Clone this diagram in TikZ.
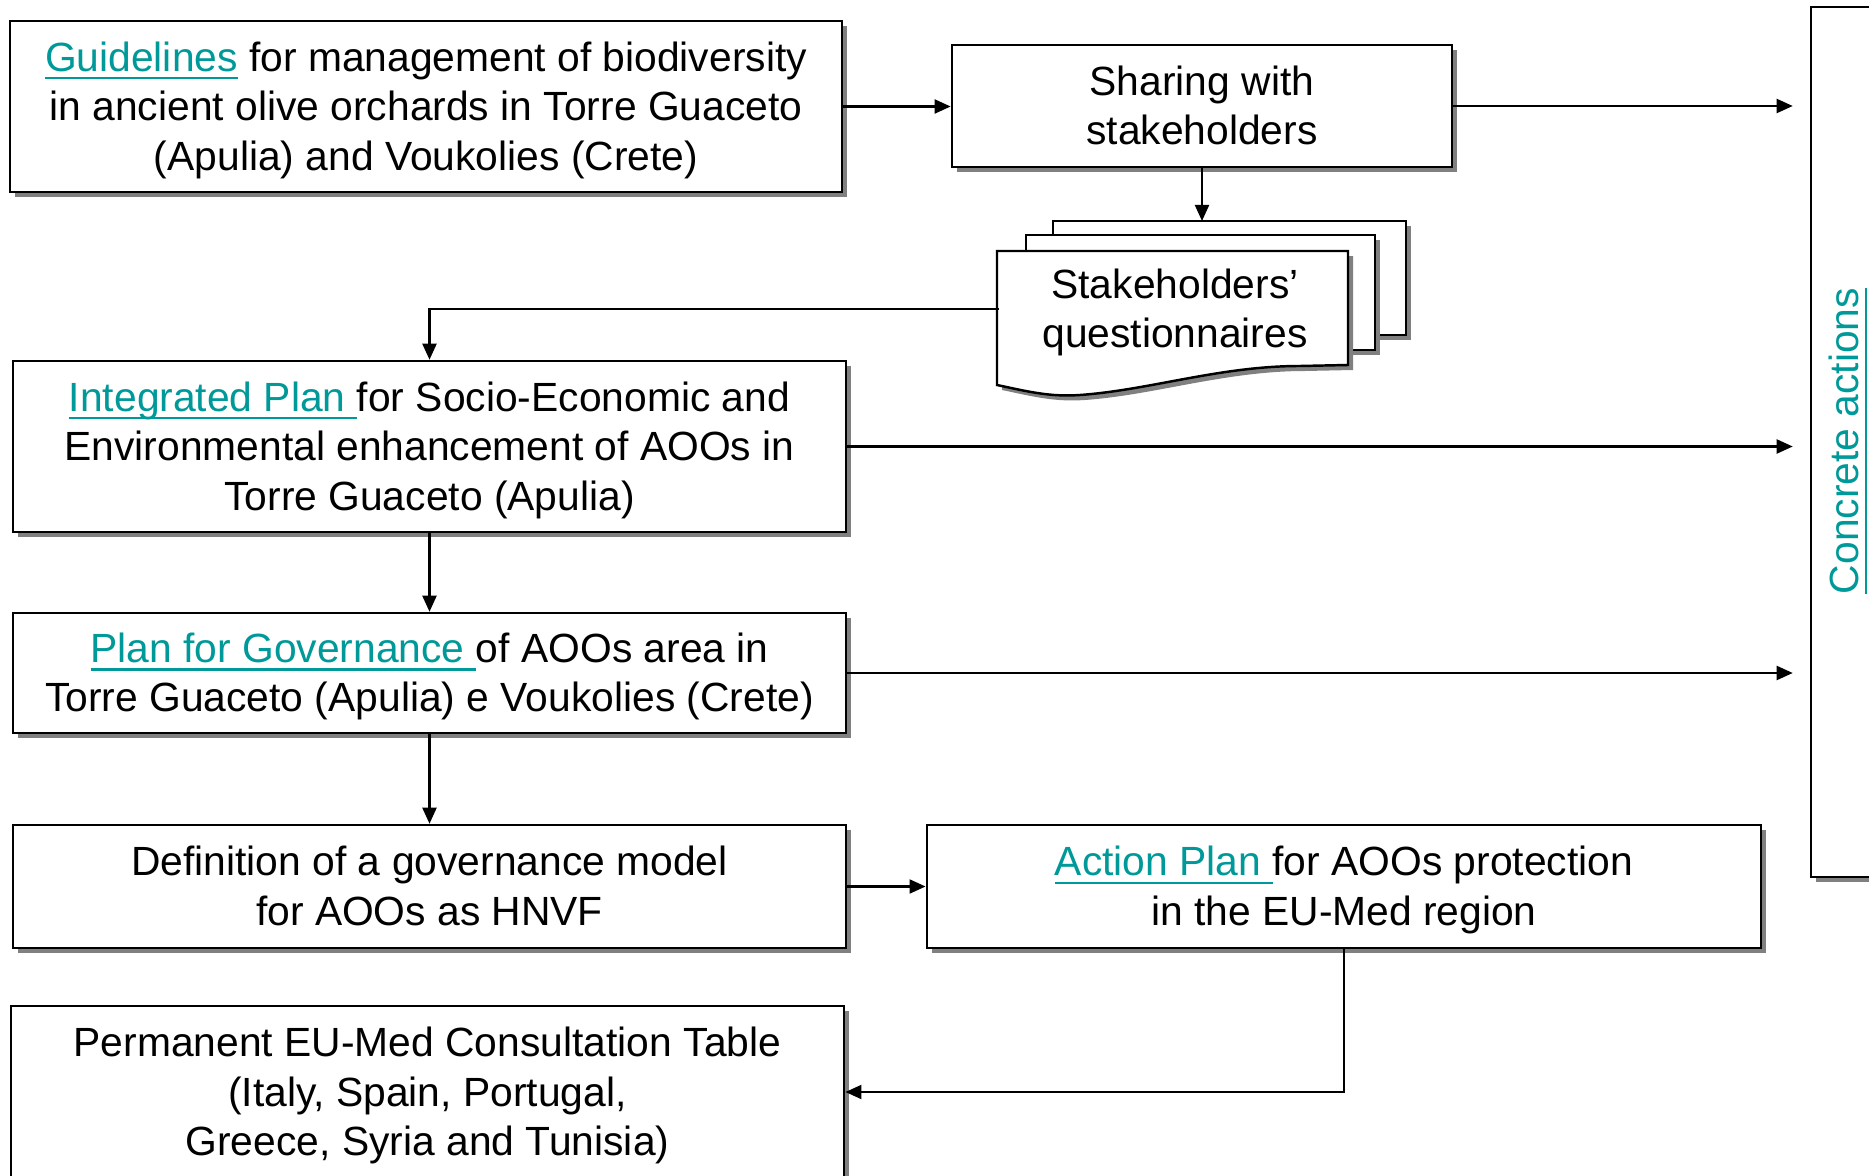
\documentclass[tikz,border=0pt]{standalone}
\usepackage{fontspec}
\setmainfont{Liberation Sans}
\usetikzlibrary{arrows.meta,shadows}
\definecolor{lnkcol}{RGB}{0,153,153}
\newcommand{\lnk}[1]{\textcolor{lnkcol}{\setbox0\hbox{#1}\rlap{\rule[-0.2em]{\wd0}{0.6pt}}\box0}}
\newcommand{\tp}{\rule{0pt}{0.905em}}
\newcommand{\bt}{\rule[-0.212em]{0pt}{0.212em}}

\begin{document}
\begin{tikzpicture}[x=0.01cm,y=-0.01cm,font=\fontsize{11.6}{14.1}\selectfont]
\tikzstyle{shd}=[drop shadow={shadow xshift=0.05cm,shadow yshift=-0.05cm,fill=gray,opacity=1}]
\tikzstyle{txt}=[align=center,inner sep=0pt]
\tikzstyle{bx}=[rectangle,draw=black,line width=0.7pt,fill=white,txt,shd]
\tikzstyle{pg}=[draw=black,line width=0.7pt,fill=white,shd]
\tikzstyle{arr}=[line width=0.6pt,-{Triangle[length=0.16cm,width=0.14cm]}]
\useasboundingbox (0,0) rectangle (1869,1176);
% left column
\node (guide) [bx,minimum width=8.32cm,minimum height=1.71cm] at (426,106.5)
 {\tp\lnk{Guidelines} for management of biodiversity\\in ancient olive orchards in Torre Guaceto\\(Apulia) and Voukolies (Crete)\bt};
\node (integ) [bx,minimum width=8.33cm,minimum height=1.71cm] at (429.5,446.5)
 {\tp\lnk{Integrated Plan\ }for Socio-Economic and\\Environmental enhancement of AOOs in\\Torre Guaceto (Apulia)\bt};
\node (gov) [bx,minimum width=8.33cm,minimum height=1.2cm] at (429.5,673)
 {\tp\lnk{Plan for Governance\ }of AOOs area in\\Torre Guaceto (Apulia) e Voukolies (Crete)\bt};
\node (defn) [bx,minimum width=8.33cm,minimum height=1.23cm] at (429.5,886.5)
 {\tp Definition of a governance model\\for AOOs as HNVF\bt};
\node (perm) [bx,minimum width=8.33cm,minimum height=1.72cm] at (427.5,1092)
 {\tp Permanent EU-Med Consultation Table\\(Italy, Spain, Portugal,\\Greece, Syria and Tunisia)\bt};
% right part
\node (share) [bx,minimum width=5cm,minimum height=1.22cm] at (1202,106)
 {\tp Sharing with\\stakeholders\bt};
\node (act) [bx,minimum width=8.34cm,minimum height=1.23cm] at (1344,886.5)
 {\tp\lnk{Action Plan\ }for AOOs protection\\in the EU-Med region\bt};
\node (conc) [bx,minimum width=1.4cm,minimum height=8.69cm] at (1881,442) {};
\node (concl) [rotate=90] at (1848,441) {\lnk{Concrete actions}};
% questionnaires stack
\draw[pg] (1053,221) rectangle (1406,335);
\draw[pg] (1026,235) rectangle (1375,350);
\draw[pg] (997,251) -- (1348,251) -- (1348,365) -- (1300,366)
 .. controls (1220,366) and (1150,390) .. (1080,395)
 .. controls (1050,397) and (1030,392) .. (997,385) -- cycle;
\node (quest) [txt,minimum width=3.51cm] at (1175,309)
 {\tp Stakeholders’\\questionnaires\bt};
\coordinate (qtop) at (1202,221);
% connectors
\draw[arr] (guide.east) -- (guide.east -| share.west);
\draw[arr,shorten >=0.17cm] (share.east) -- (share.east -| conc.west);
\draw[arr] (share.south) -- (qtop);
\draw[arr] (quest.west) -| (integ.north);
\draw[arr,shorten >=0.17cm] (integ.east) -- (integ.east -| conc.west);
\draw[arr] (integ.south) -- (gov.north);
\draw[arr,shorten >=0.17cm] (gov.east) -- (gov.east -| conc.west);
\draw[arr] (gov.south) -- (defn.north);
\draw[arr] (defn.east) -- (act.west);
\draw[arr] (act.south) |- (perm.east);
\end{tikzpicture}
\end{document}
